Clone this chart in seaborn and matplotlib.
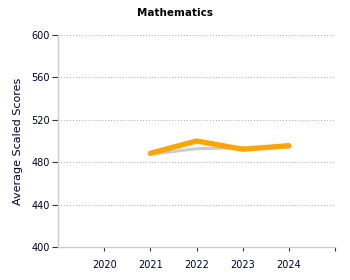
import matplotlib
matplotlib.use("Agg")
import matplotlib.pyplot as plt
import seaborn as sns
import pandas as pd

years = [2021, 2022, 2023, 2024]
state_scores = [488.4, 500.0, 492.2, 495.6]
compare_scores = [487.5, 492.7, 493.7, 494.0]
tick_years = [2020, 2021, 2022, 2023, 2024]
y_ticks = [400, 440, 480, 520, 560, 600]

sns.set_theme(style="white")
plt.rcParams['font.family'] = ['DejaVu Sans']

fig = plt.figure(figsize=(3.5, 2.8), dpi=100)
ax = fig.add_axes([58/350, 33/280, 277/350, 212/280])

df_c = pd.DataFrame({"year": years, "score": compare_scores})
df_s = pd.DataFrame({"year": years, "score": state_scores})
sns.lineplot(data=df_c, x="year", y="score", ax=ax, color="#cccccc", linewidth=2.2)
sns.lineplot(data=df_s, x="year", y="score", ax=ax, color="#FFA500", linewidth=3.8)

ax.set_xlim(2019, 2025)
ax.set_ylim(400, 600)
ax.set_xticks(tick_years + [2025])
ax.set_xticklabels([str(y) for y in tick_years] + [""], fontsize=7, color="#000033")
ax.set_yticks(y_ticks)
ax.set_yticklabels([str(v) for v in y_ticks], fontsize=7, color="#000033")
for v in y_ticks[1:]:
    ax.axhline(v, color="#aaaaaa", linestyle=(0, (1, 2)), linewidth=0.7, zorder=0)

ax.tick_params(axis="x", bottom=True, length=3, width=0.8, color="#333333", pad=6)
ax.tick_params(axis="y", left=True, length=4, width=0.8, color="#333333", pad=2)
for s in ["top", "right"]:
    ax.spines[s].set_visible(False)
for s in ["left", "bottom"]:
    ax.spines[s].set_color("#cccccc")
    ax.spines[s].set_linewidth(1)

ax.set_xlabel("")
ax.set_ylabel("Average Scaled Scores", fontsize=8, color="#000033", labelpad=6)
fig.text(175/350, 1 - 13/280, "Mathematics", ha="center", va="center",
         fontsize=7.5, fontweight="bold", color="#000000")

fig.savefig("out.png", dpi=100)
